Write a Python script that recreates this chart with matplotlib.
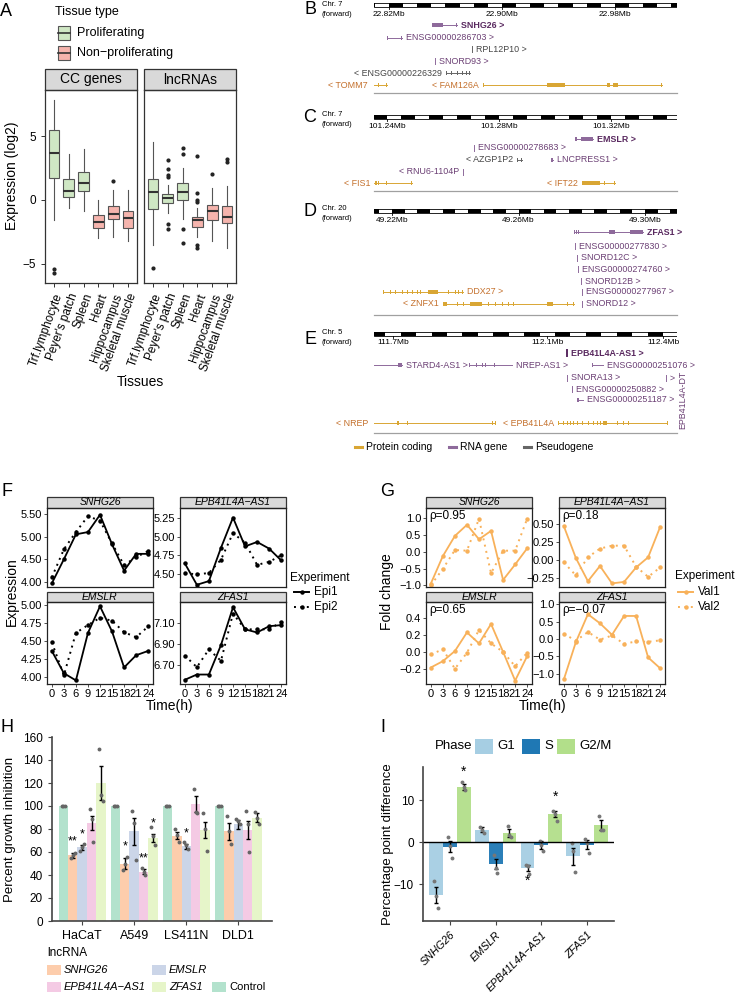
import numpy as np
import matplotlib.pyplot as plt
from matplotlib.patches import Rectangle
from matplotlib.ticker import FuncFormatter

W, H = 740, 992
plt.rcParams['font.family'] = ['Liberation Sans', 'DejaVu Sans']

# ---------------- A: expression per tissue (whisker low, Q1, median, Q3, whisker high) ----------------
tissues = ["Trf.lymphocyte", "Peyer's patch", "Spleen", "Heart", "Hippocampus", "Skeletal muscle"]
prolif = [True, True, True, False, False, False]
cc_box = [(-1.6, 1.7, 3.7, 5.5, 7.8), (-0.6, 0.2, 0.7, 1.6, 3.6), (-0.9, 0.7, 1.3, 2.2, 4.0),
          (-3.0, -2.2, -1.7, -1.2, 0.0), (-2.9, -1.5, -1.1, -0.5, 0.8), (-3.2, -2.2, -1.4, -0.9, 0.8)]
cc_out = [[-5.4, -5.7], [], [], [], [1.5], []]
lnc_box = [(-3.5, -0.7, 0.6, 1.6, 4.5), (-1.0, -0.25, 0.15, 0.5, 1.2), (-1.5, 0.0, 0.6, 1.3, 2.5),
           (-2.9, -2.1, -1.6, -1.3, -0.6), (-3.2, -1.6, -0.9, -0.4, 0.9), (-3.8, -1.8, -1.3, -0.5, 1.1)]
lnc_out = [[-5.3], [3.1, 2.4, 1.95, 1.8, -1.9, -2.3], [4.1, 3.6, -2.3, -3.4],
           [3.4, 0.55, 0.0, -0.2, -3.5, -3.8], [2.0], [3.0, 3.2]]

# ---------------- B-E: genome tracks ----------------
# (name, start Mb, end Mb, row, biotype, strand, exons, bold)
b_genes = [
    ("SNHG26", 22.8504, 22.8681, 0, "rna", "+", [(22.8504, 22.8582), (22.8675, 22.8681)], True),
    ("ENSG00000286703", 22.8186, 22.8292, 1, "rna", "+", [(22.8186, 22.8190), (22.8282, 22.8292)], False),
    ("RPL12P10", 22.8788, 22.8788, 2, "pseudo", "+", [], False),
    ("SNORD93", 22.8526, 22.8526, 3, "rna", "+", [], False),
    ("ENSG00000226329", 22.8603, 22.8773, 4, "pseudo", "-",
     [(22.8603, 22.8606), (22.8640, 22.8643), (22.8680, 22.8683), (22.8720, 22.8723), (22.8745, 22.8748), (22.8770, 22.8773)], False),
    ("TOMM7", 22.8080, 22.8186, 5, "coding", "-", [(22.8080, 22.8085), (22.8122, 22.8126), (22.8181, 22.8186)], False),
    ("FAM126A", 22.8866, 23.0133, 5, "coding", "-",
     [(22.8866, 22.8869), (22.8878, 22.8881), (22.9175, 22.9178), (22.9319, 22.9446), (22.9572, 22.9576),
      (22.9607, 22.9611), (22.9743, 22.9765), (22.9786, 22.9821), (22.9883, 22.9886), (22.9961, 22.9964), (23.0130, 23.0133)], False),
]
b_rows = [25, 38, 49, 61, 73, 85]

c_genes = [
    ("EMSLR", 101.3071, 101.3136, 0, "rna", "+", [(101.3071, 101.3073), (101.3077, 101.3079), (101.3093, 101.3136)], True),
    ("ENSG00000278683", 101.2711, 101.2711, 1, "rna", "+", [], False),
    ("AZGP1P2", 101.2864, 101.2882, 2, "pseudo", "-", [(101.2864, 101.2867), (101.2879, 101.2882)], False),
    ("LNCPRESS1", 101.2986, 101.2993, 2, "rna", "+", [(101.2986, 101.2988), (101.2991, 101.2993)], False),
    ("RNU6-1104P", 101.2671, 101.2671, 3, "rna", "-", [], False),
    ("FIS1", 101.2354, 101.2489, 4, "coding", "-",
     [(101.2357, 101.2360), (101.2362, 101.2366), (101.2368, 101.2371), (101.2396, 101.2399), (101.2486, 101.2489)], False),
    ("IFT22", 101.3096, 101.3214, 4, "coding", "-", [(101.3096, 101.3161), (101.3175, 101.3179), (101.3211, 101.3214)], False),
]
c_rows = [139, 148, 160, 172, 183]

d_genes = [
    ("ZFAS1", 49.2776, 49.2994, 0, "rna", "+",
     [(49.2776, 49.2779), (49.2782, 49.2785), (49.2788, 49.2791), (49.2886, 49.2905), (49.2953, 49.2994)], True),
    ("ENSG00000277830", 49.2779, 49.2779, 1, "rna", "+", [], False),
    ("SNORD12C", 49.2785, 49.2785, 2, "rna", "+", [], False),
    ("ENSG00000274760", 49.2788, 49.2788, 3, "rna", "+", [], False),
    ("SNORD12B", 49.2798, 49.2798, 4, "rna", "+", [], False),
    ("ENSG00000277967", 49.2801, 49.2801, 5, "rna", "+", [], False),
    ("SNORD12", 49.2801, 49.2801, 6, "rna", "+", [], False),
    ("DDX27", 49.2172, 49.2424, 5, "coding", "+",
     [(49.2172, 49.2175), (49.2194, 49.2197), (49.2209, 49.2212), (49.2232, 49.2235), (49.2247, 49.2250),
      (49.2263, 49.2266), (49.2279, 49.2282), (49.2289, 49.2292), (49.2314, 49.2345), (49.2377, 49.2380),
      (49.2399, 49.2402), (49.2409, 49.2412), (49.2421, 49.2424)], False),
    ("ZNFX1", 49.2361, 49.2776, 6, "coding", "-",
     [(49.2361, 49.2374), (49.2406, 49.2409), (49.2425, 49.2428), (49.2447, 49.2485), (49.2504, 49.2507),
      (49.2526, 49.2529), (49.2548, 49.2551), (49.2567, 49.2570), (49.2583, 49.2586), (49.2690, 49.2709),
      (49.2753, 49.2756), (49.2773, 49.2776)], False),
]
d_rows = [232, 246, 258, 269, 281, 292, 304]

e_genes = [
    ("EPB41L4A-AS1", 112.1511, 112.1511, 0, "rna", "+", [], True),
    ("STARD4-AS1", 111.6450, 111.7233, 1, "rna", "+", [(111.7130, 111.7233)], False),
    ("NREP-AS1", 111.8970, 112.0085, 1, "rna", "+",
     [(111.8970, 111.8978), (111.9152, 111.9160), (111.9307, 111.9315), (111.9385, 111.9393), (111.9619, 111.9627)], False),
    ("ENSG00000251076", 112.2160, 112.2445, 1, "rna", "+", [(112.2160, 112.2175)], False),
    ("SNORA13", 112.1511, 112.1511, 2, "rna", "+", [], False),
    ("", 112.4078, 112.4078, 2, "rna", "+", [], False),
    ("ENSG00000250882", 112.1640, 112.1652, 3, "rna", "+", [(112.1640, 112.1652)], False),
    ("ENSG00000251187", 112.1770, 112.1926, 4, "rna", "+", [(112.1770, 112.1795), (112.1805, 112.1830)], False),
    ("EPB41L4A", 112.1278, 112.4104, 5, "coding", "-",
     [(112.1278, 112.1286), (112.1408, 112.1416), (112.1511, 112.1519), (112.1589, 112.1597), (112.1667, 112.1675),
      (112.1771, 112.1779), (112.1900, 112.1908), (112.2056, 112.2064), (112.2186, 112.2194), (112.2289, 112.2297),
      (112.2367, 112.2375), (112.2445, 112.2548), (112.2808, 112.2816), (112.2963, 112.2971), (112.3093, 112.3101),
      (112.4096, 112.4104)], False),
    ("NREP", 111.6450, 111.9645, 5, "coding", "-",
     [(111.7104, 111.7112), (111.7140, 111.7148), (111.7363, 111.7375), (111.9567, 111.9575), (111.9637, 111.9645)], False),
]
e_rows = [353, 365, 378, 389, 400, 423]

# ---------------- F/G: time courses ----------------
hours = [0, 3, 6, 9, 12, 15, 18, 21, 24]
fg_genes = ["SNHG26", "EPB41L4A\u2212AS1", "EMSLR", "ZFAS1"]
f_epi1 = [[3.97, 4.50, 5.05, 5.10, 5.48, 4.83, 4.25, 4.62, 4.62],
          [4.64, 4.35, 4.40, 4.85, 5.26, 4.87, 4.93, 4.84, 4.68],
          [4.36, 4.05, 3.95, 4.61, 4.98, 4.63, 4.13, 4.30, 4.36],
          [6.56, 6.61, 6.61, 6.89, 7.25, 7.04, 7.01, 7.07, 7.08]]
f_epi2 = [[4.10, 4.72, 5.10, 5.45, 5.35, 4.85, 4.37, 4.55, 4.68],
          [4.51, 4.49, 4.51, 4.69, 5.05, 4.92, 4.62, 4.66, 4.75],
          [4.48, 4.02, 4.61, 4.72, 4.82, 4.78, 4.62, 4.55, 4.70],
          [6.79, 6.68, 6.85, 6.74, 7.19, 7.04, 7.04, 7.04, 7.11]]
f_yticks = [[4.0, 4.5, 5.0, 5.5], [4.5, 4.75, 5.0, 5.25], [4.0, 4.25, 4.5, 4.75, 5.0], [6.7, 6.9, 7.1]]
g_val1 = [[-0.95, -0.13, 0.47, 0.80, 0.37, 0.62, -0.84, -0.38, 0.10],
          [0.47, 0.03, -0.29, -0.08, -0.32, -0.30, -0.10, 0.04, 0.46],
          [-0.185, -0.11, 0.01, 0.23, 0.10, 0.33, 0.00, -0.34, -0.05],
          [-1.16, -0.09, 0.71, 0.45, 0.12, 0.66, 0.66, -0.53, -0.84]]
g_val2 = [[-1.00, -0.51, 0.05, 0.03, 0.98, -0.64, 0.03, 0.03, 0.98],
          [-0.03, -0.21, 0.04, 0.16, 0.20, 0.20, -0.09, -0.23, -0.10],
          [-0.03, 0.03, -0.20, -0.01, 0.26, 0.10, 0.00, -0.17, -0.01],
          [0.15, -0.05, 0.20, -0.02, 0.10, -0.14, -0.07, -0.08, -0.04]]
g_rho = ["0.95", "0.18", "0.65", "\u22120.07"]
g_yticks = [[-1.0, -0.5, 0.0, 0.5, 1.0], [-0.25, 0.0, 0.25, 0.5], [-0.2, 0.0, 0.2, 0.4], [-1.0, -0.5, 0.0, 0.5, 1.0]]

# ---------------- H: growth inhibition ----------------
cell_lines = ["HaCaT", "A549", "LS411N", "DLD1"]
treatments = ["Control", "SNHG26", "EMSLR", "EPB41L4A\u2212AS1", "ZFAS1"]
h_colors = ['#b3e2cd', '#fdcdac', '#cbd5e8', '#f4cae4', '#e6f5c9']
h_mean = [[100, 57, 64, 85, 120], [100, 50, 78, 43, 72], [100, 74, 65, 102, 79], [100, 78, 84, 79, 90]]
h_sem = [[0, 2, 2.5, 6, 15], [0, 4.5, 12, 2, 3.5], [0, 3, 2, 7, 7], [0, 7.5, 4, 8, 4]]
h_reps = [[[100, 100, 100], [55, 57, 59], [61, 64, 67], [97, 89, 69], [150, 110, 104]],
          [[100, 100, 100], [44, 50, 56], [96, 85, 53], [46, 43, 40], [82, 74, 66]],
          [[100, 100, 100], [80, 75, 69], [69, 66, 63], [115, 95, 94], [94, 80, 61]],
          [[100, 100, 100], [91, 78, 67], [89, 87, 84], [96, 84, 60], [95, 90, 84]]]
h_stars = [(0, 1, '**', 69), (0, 2, '*', 75), (1, 1, '*', 65), (1, 3, '**', 54), (1, 4, '*', 85), (2, 2, '*', 76)]

# ---------------- I: cell cycle phases ----------------
i_genes = ["SNHG26", "EMSLR", "EPB41L4A\u2212AS1", "ZFAS1"]
phases = ["G1", "S", "G2/M"]
i_colors = ['#a6cee3', '#1f78b4', '#b2df8a']
i_mean = [[-12.6, -1.1, 13.2], [3.0, -5.2, 2.2], [-6.2, -0.7, 6.7], [-3.4, -0.6, 4.0]]
i_err = [[1.9, 1.3, 0.7], [0.5, 1.2, 1.0], [0.7, 0.9, 0.8], [2.0, 1.0, 1.2]]
i_reps = [[[-9.3, -12.8, -15.8], [1.2, -1.0, -3.8], [14.3, 13.1, 12.5]],
          [[3.5, 2.8, 2.1], [-3.0, -6.1, -7.3], [3.9, 1.7, 1.3]],
          [[-5.4, -5.7, -7.5], [0.3, -0.6, -2.0], [7.4, 6.7, 5.1]],
          [[-0.2, -2.2, -7.2], [0.8, -0.2, -2.6], [6.2, 2.9, 2.8]]]
i_stars = [(0, 2, 16.7), (2, 2, 10.8), (2, 0, -9.3)]

# =====================================================================
fig = plt.figure(figsize=(W / 100, H / 100), dpi=100)
bg = fig.add_axes([0, 0, 1, 1])
bg.set_xlim(0, W)
bg.set_ylim(H, 0)
bg.axis('off')


def box(x0, y0, x1, y1):
    return fig.add_axes([x0 / W, 1 - y1 / H, (x1 - x0) / W, (y1 - y0) / H])


def add_strip(ax, label, h_px, italic=False, fs=8):
    hf = h_px / (ax.get_position().height * H)
    ax.add_patch(Rectangle((0, 1), 1, hf, transform=ax.transAxes, clip_on=False,
                           facecolor='#d9d9d9', edgecolor='#333333', lw=0.9))
    ax.text(0.5, 1 + hf / 2, label, transform=ax.transAxes, ha='center', va='center',
            fontsize=fs, style='italic' if italic else 'normal')


def minus(fmt):
    return FuncFormatter(lambda v, p: (fmt % v).replace('-', '\u2212'))


for lab, x, y in [('A', 6, 12), ('B', 310, 10), ('C', 310, 118), ('D', 310, 211), ('E', 310, 339),
                  ('F', 7, 491), ('G', 387, 491), ('H', 7, 727), ('I', 383, 727)]:
    bg.text(x, y, lab, fontsize=13, ha='center', va='center')

# ---------------- panel A ----------------
green, pink = '#cfe7c4', '#f5b4ad'
bg.text(55, 12, 'Tissue type', fontsize=9, va='center')
for yy, col, txt in [(33, green, 'Proliferating'), (53, pink, 'Non\u2212proliferating')]:
    bg.add_patch(Rectangle((58, yy - 7), 12, 14, facecolor=col, edgecolor='#555555', lw=0.8))
    bg.plot([58, 70], [yy, yy], color='#333333', lw=1.2)
    bg.text(77, yy, txt, fontsize=9, va='center')

for k, (stats, outs, title) in enumerate([(cc_box, cc_out, 'CC genes'), (lnc_box, lnc_out, 'lncRNAs')]):
    ax = box(45 + 99 * k, 90, 137 + 99 * k, 283)
    bxs = [dict(whislo=s[0], q1=s[1], med=s[2], q3=s[3], whishi=s[4], fliers=o) for s, o in zip(stats, outs)]
    art = ax.bxp(bxs, positions=range(1, 7), widths=0.72, patch_artist=True, showcaps=False,
                 boxprops=dict(edgecolor='#555555', linewidth=0.8),
                 whiskerprops=dict(color='#555555', lw=0.8),
                 medianprops=dict(color='#333333', lw=1.5),
                 flierprops=dict(marker='o', markersize=2, markerfacecolor='#222222', markeredgecolor='#222222'))
    for patch, p in zip(art['boxes'], prolif):
        patch.set_facecolor(green if p else pink)
    ax.set_xlim(0.4, 6.6)
    ax.set_ylim(-6.5, 8.6)
    ax.set_xticks(range(1, 7))
    ax.set_xticklabels(tissues, rotation=70, ha='right', rotation_mode='anchor', fontsize=8)
    ax.set_yticks([-5, 0, 5])
    if k == 0:
        ax.yaxis.set_major_formatter(minus('%d'))
    else:
        ax.tick_params(axis='y', left=False, labelleft=False)
    ax.tick_params(labelsize=8.5, length=3, color='#333333', width=0.7)
    for s in ax.spines.values():
        s.set_linewidth(0.9)
        s.set_color('#333333')
    add_strip(ax, title, 21, fs=10)
bg.text(12, 176, 'Expression (log2)', rotation=90, fontsize=10, ha='center', va='center')
bg.text(140, 382, 'Tissues', fontsize=10, ha='center', va='center')

# ---------------- panels B-E ----------------
COL = {"coding": ("#d9a634", "#c4702c"), "rna": ("#8e6a9b", "#6b3f74"), "pseudo": ("#666666", "#454545")}
GFS = 6.4


def draw_track(y0, y1, lo, hi, seg, bar_y, ticks, fmt, genes, rows, sep_y):
    ax = box(374, y0, 677, y1)
    ax.set_xlim(lo, hi)
    ax.set_ylim(y1, y0)
    ax.axis('off')
    ppx = (hi - lo) / 303.0
    s = np.floor(lo / seg) * seg
    i = 0
    while s < hi:
        ax.add_patch(Rectangle((s, bar_y - 2), seg, 4, facecolor='black' if i % 2 == 0 else 'white', lw=0))
        s += seg
        i += 1
    ax.add_patch(Rectangle((lo, bar_y - 2), hi - lo, 4, fill=False, edgecolor='black', lw=0.6))
    for t in ticks:
        ax.plot([t, t], [bar_y + 2, bar_y + 4], color='black', lw=0.6)
        ax.text(t, bar_y + 9, fmt % t + 'Mb', ha='center', va='center', fontsize=6)
    for name, a, b, row, kind, strand, exons, bold in genes:
        lc, tc = COL[kind]
        if bold:
            tc = '#5a2a60'
        y = rows[row]
        if b - a < 1.5 * ppx:
            ax.plot([a, a], [y - 3, y + 3], color=lc if not bold else tc, lw=1.4 if bold else 0.7)
        else:
            ax.plot([a, b], [y, y], color=lc, lw=0.7)
        for ea, eb in exons:
            ax.add_patch(Rectangle((ea, y - 1.6), max(eb - ea, 0.8 * ppx), 3.2, facecolor=lc, lw=0))
        if strand == '+':
            txt = (name + ' >') if name else '>'
            ax.text(b + 4 * ppx, y, txt, ha='left', va='center', fontsize=GFS, color=tc,
                    fontweight='bold' if bold else 'normal')
        else:
            ax.text(a - 4 * ppx, y, '< ' + name, ha='right', va='center', fontsize=GFS, color=tc)
    ax.plot([lo, hi], [sep_y, sep_y], color='#a0a0a0', lw=0.9, clip_on=False)
    return ax


draw_track(0, 95, 22.8094, 23.024, 0.01, 5, [22.82, 22.90, 22.98], '%.2f', b_genes, b_rows, 93)
draw_track(108, 193, 101.2354, 101.3436, 0.005, 117, [101.24, 101.28, 101.32], '%.2f', c_genes, c_rows, 191)
draw_track(203, 317, 49.2143, 49.3101, 0.004, 211, [49.22, 49.26, 49.30], '%.2f', d_genes, d_rows, 315)
draw_track(326, 436, 111.6507, 112.4363, 0.04, 334, [111.7, 112.1, 112.4], '%.1f', e_genes, e_rows, 433)
bg.text(683, 400, 'EPB41L4A-DT', rotation=90, fontsize=GFS, color=COL['rna'][1], ha='center', va='center')

for chrom, yy in [('Chr. 7', 4), ('Chr. 7', 114), ('Chr. 20', 208), ('Chr. 5', 333)]:
    bg.text(322, yy, chrom, fontsize=5.5, va='center')
    bg.text(322, yy + 10, '(forward)', fontsize=5.5, va='center')

for x, kind, txt in [(355, 'coding', 'Protein coding'), (449, 'rna', 'RNA gene'), (524, 'pseudo', 'Pseudogene')]:
    bg.plot([x, x + 7], [447, 447], color=COL[kind][0], lw=2.2)
    bg.text(x + 11, 447, txt, fontsize=7.5, va='center')

# ---------------- panels F and G ----------------
fg_boxes = [(0, 508, 587, 11), (1, 508, 587, 11), (0, 602, 684, 10), (1, 602, 684, 10)]
f_ylims = [(3.89, 5.63), (4.32, 5.39), (3.90, 5.04), (6.52, 7.30)]
g_ylims = [(-1.05, 1.30), (-0.37, 0.72), (-0.38, 0.59), (-1.29, 1.06)]
g_fmts = ['%.1f', '%.2f', '%.1f', '%.1f']
orange = '#f8b15a'
dotted = (0, (1.0, 2.3))

for panel in ['F', 'G']:
    for j, (col, y0, y1, sh) in enumerate(fg_boxes):
        if panel == 'F':
            x0 = 47 + 133 * col
            ax = box(x0, y0, x0 + 106, y1)
            s1, s2, c = f_epi1[j], f_epi2[j], 'black'
            ax.set_ylim(*f_ylims[j])
            ax.set_yticks(f_yticks[j])
            ax.yaxis.set_major_formatter(minus('%.2f'))
        else:
            x0 = 426 + 133 * col
            ax = box(x0, y0, x0 + 106, y1)
            s1, s2, c = g_val1[j], g_val2[j], orange
            ax.set_ylim(*g_ylims[j])
            ax.set_yticks(g_yticks[j])
            ax.yaxis.set_major_formatter(minus(g_fmts[j]))
            ax.text(0.03, 0.97, '\u03c1=' + g_rho[j], transform=ax.transAxes, fontsize=8.5, va='top', ha='left')
        ax.plot(hours, s1, color=c, lw=1.3, marker='o', ms=2.2)
        ax.plot(hours, s2, color=c, lw=1.4, ls=dotted, marker='o', ms=2.2)
        ax.set_xlim(-1.2, 25.2)
        ax.set_xticks(hours)
        if y0 == 602:
            ax.set_xticklabels([str(h) for h in hours])
        else:
            ax.tick_params(axis='x', bottom=False, labelbottom=False)
        ax.tick_params(labelsize=8, length=2, width=0.6, pad=1.5, color='#333333')
        for s in ax.spines.values():
            s.set_linewidth(0.9)
            s.set_color('#222222')
        add_strip(ax, fg_genes[j], sh, italic=True, fs=7.5)

bg.text(12, 592, 'Expression', rotation=90, fontsize=10, ha='center', va='center')
bg.text(170, 706, 'Time(h)', fontsize=10, ha='center', va='center')
bg.text(387, 592, 'Fold change', rotation=90, fontsize=10, ha='center', va='center')
bg.text(543, 706, 'Time(h)', fontsize=10, ha='center', va='center')

bg.text(290, 578, 'Experiment', fontsize=8.5, va='center')
bg.text(675, 576, 'Experiment', fontsize=8.5, va='center')
for lx, c, names in [(294, 'black', ['Epi1', 'Epi2']), (678, orange, ['Val1', 'Val2'])]:
    for n, (yy, ls) in zip(names, [(592, '-'), (607, dotted)]):
        bg.plot([lx, lx + 15], [yy, yy], color=c, lw=1.4, ls=ls)
        bg.plot([lx + 7.5], [yy], color=c, marker='o', ms=2.2)
        bg.text(lx + 20, yy, n, fontsize=8.5, va='center')

# ---------------- panel H ----------------
ax = box(52, 737, 272, 921)
bw = 0.18
spread = [-0.035, 0.0, 0.035]
for g in range(len(cell_lines)):
    for t in range(len(treatments)):
        xc = g + (t - 2) * bw
        ax.bar(xc, h_mean[g][t], width=bw, color=h_colors[t], lw=0)
        if h_sem[g][t] > 0:
            ax.errorbar(xc, h_mean[g][t], yerr=h_sem[g][t], color='black', lw=1, capsize=1.5, capthick=1)
        ax.plot([xc + d for d in spread], h_reps[g][t], ls='none', marker='o', ms=1.8, color='#666666')
for g, t, lab, yy in h_stars:
    ax.text(g + (t - 2) * bw, yy, lab, ha='center', va='center', fontsize=9)
ax.set_xlim(-0.58, 3.65)
ax.set_ylim(0, 160)
ax.set_yticks(range(0, 161, 20))
ax.set_xticks(range(len(cell_lines)))
ax.set_xticklabels(cell_lines, fontsize=9)
ax.tick_params(labelsize=8.5, length=3, width=0.8, color='#444444')
ax.tick_params(axis='x', labelsize=9)
for s in ['top', 'right']:
    ax.spines[s].set_visible(False)
for s in ['left', 'bottom']:
    ax.spines[s].set_linewidth(1.2)
    ax.spines[s].set_color('#444444')
bg.text(10, 829, 'Percent growth inhibition', rotation=90, fontsize=9.5, ha='center', va='center')

bg.text(47, 953, 'lncRNA', fontsize=8.5, va='center')
for t, (x, yy) in zip(range(1, 5), [(47, 970), (152, 970), (47, 987), (152, 987)]):
    bg.add_patch(Rectangle((x, yy - 5), 14, 10, facecolor=h_colors[t], lw=0))
    bg.text(x + 17, yy, treatments[t], fontsize=8, style='italic', va='center')
bg.add_patch(Rectangle((212, 982), 14, 10, facecolor=h_colors[0], lw=0))
bg.text(229, 987, treatments[0], fontsize=8, va='center')

# ---------------- panel I ----------------
ax = box(423, 767, 614, 921)
bw = 0.3
spread = [-0.04, 0.0, 0.04]
for g in range(len(i_genes)):
    for p in range(len(phases)):
        xc = g + (p - 1) * bw
        ax.bar(xc, i_mean[g][p], width=bw, color=i_colors[p], lw=0, alpha=0.95)
        ax.errorbar(xc, i_mean[g][p], yerr=i_err[g][p], color='black', lw=1, capsize=1.5, capthick=1)
        ax.plot([xc + d for d in spread], i_reps[g][p], ls='none', marker='o', ms=1.8, color='#777777')
for g, p, yy in i_stars:
    ax.text(g + (p - 1) * bw, yy, '*', ha='center', va='center', fontsize=10)
ax.axhline(0, color='black', lw=1)
ax.set_xlim(-0.59, 3.59)
ax.set_ylim(-18.8, 17.9)
ax.set_yticks([-10, 0, 10])
ax.yaxis.set_major_formatter(minus('%d'))
ax.set_xticks(range(len(i_genes)))
ax.set_xticklabels(i_genes, rotation=45, ha='right', rotation_mode='anchor', style='italic', fontsize=7.8)
ax.tick_params(axis='y', labelsize=8.5)
ax.tick_params(length=3, width=0.8, color='#444444')
for s in ['top', 'right']:
    ax.spines[s].set_visible(False)
for s in ['left', 'bottom']:
    ax.spines[s].set_linewidth(1.2)
    ax.spines[s].set_color('#444444')
bg.text(388, 844, 'Percentage point difference', rotation=90, fontsize=9.5, ha='center', va='center')

bg.text(435, 746, 'Phase', fontsize=9.5, va='center')
for p, x in enumerate([475, 522, 557]):
    bg.add_patch(Rectangle((x, 739), 18, 15, facecolor=i_colors[p], lw=0))
    bg.text(x + 22, 746, phases[p], fontsize=9.5, va='center')

fig.savefig('out.png', dpi=100)
